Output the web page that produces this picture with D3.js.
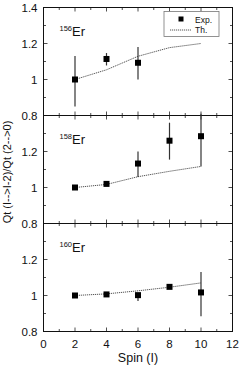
<!DOCTYPE html>
<html>
<head>
<meta charset="utf-8">
<script src="https://cdn.jsdelivr.net/npm/d3@7"></script>
<style>
  body { margin: 0; background: #fff; }
  svg { display: block; font-family: "Liberation Sans", Arial, sans-serif; }
</style>
</head>
<body>
<div class="containers"></div>
<script>
// spins for theory curves
const spins = [2, 4, 6, 8, 10]
const xTicks = [0, 2, 4, 6, 8, 10, 12]

// theory (Th.) per nucleus
const th156 = [1.0, 1.054, 1.129, 1.177, 1.2]
const th158 = [1.0, 1.017, 1.06, 1.09, 1.117]
const th160 = [1.0, 1.009, 1.026, 1.046, 1.07]

// experiment (Exp.) values with lower / upper error ends
const expSpin156 = [2, 4, 6]
const exp156 = [1.0, 1.114, 1.093]
const expLo156 = [0.85, 1.078, 1.0]
const expHi156 = [1.13, 1.147, 1.18]

const expSpin158 = [2, 4, 6, 8, 10]
const exp158 = [1.0, 1.02, 1.133, 1.26, 1.285]
const expLo158 = [0.99, 1.01, 1.058, 1.155, 1.117]
const expHi158 = [1.01, 1.03, 1.2, 1.36, 1.41]

const expSpin160 = [2, 4, 6, 8, 10]
const exp160 = [1.0, 1.006, 1.002, 1.048, 1.017]
const expLo160 = [0.99, 0.996, 0.97, 1.04, 0.885]
const expHi160 = [1.01, 1.016, 1.01, 1.056, 1.13]

const panels = [
  { mass: '156', th: th156, s: expSpin156, v: exp156, lo: expLo156, hi: expHi156, yLabels: [0.8, 1, 1.2, 1.4] },
  { mass: '158', th: th158, s: expSpin158, v: exp158, lo: expLo158, hi: expHi158, yLabels: [0.8, 1, 1.2] },
  { mass: '160', th: th160, s: expSpin160, v: exp160, lo: expLo160, hi: expHi160, yLabels: [0.8, 1, 1.2] }
]

const width = 240
const height = 367
const plotLeft = 43.5
const plotRight = 232.5
const plotTop = 7.5
const ph = 108

const svg = d3.select('.containers')
  .append('svg')
  .attr('width', width)
  .attr('height', height)

const x = d3.scaleLinear().domain([0, 12]).range([plotLeft, plotRight])
const fmt = d => String(+d.toFixed(1))

panels.forEach((p, i) => {
  const y0 = plotTop + i * ph
  const y = d3.scaleLinear().domain([0.8, 1.4]).range([y0 + ph, y0])
  const g = svg.append('g')

  // inward ticks, major and minor, on all four sides
  const yMinor = d3.range(0.8, 1.401, 0.1)
  const xMinor = d3.range(0, 12.01, 1)
  yMinor.forEach((v, k) => {
    const len = k % 2 === 0 ? 4 : 2.5
    g.append('line').attr('x1', plotLeft).attr('x2', plotLeft + len).attr('y1', y(v)).attr('y2', y(v))
    g.append('line').attr('x1', plotRight).attr('x2', plotRight - len).attr('y1', y(v)).attr('y2', y(v))
  })
  xMinor.forEach((v, k) => {
    const len = k % 2 === 0 ? 4 : 2.5
    g.append('line').attr('x1', x(v)).attr('x2', x(v)).attr('y1', y0 + ph).attr('y2', y0 + ph - len)
    g.append('line').attr('x1', x(v)).attr('x2', x(v)).attr('y1', y0).attr('y2', y0 + len)
  })
  g.selectAll('line').attr('stroke', '#222').attr('stroke-width', 0.8)

  g.append('rect')
    .attr('x', plotLeft).attr('y', y0)
    .attr('width', plotRight - plotLeft).attr('height', ph)
    .attr('fill', 'none').attr('stroke', '#111').attr('stroke-width', 1)

  // y tick labels
  g.selectAll('.ylab')
    .data(p.yLabels)
    .join('text')
    .attr('x', plotLeft - 6)
    .attr('y', d => y(d) + 4)
    .attr('text-anchor', 'end')
    .attr('font-size', 11.5)
    .attr('fill', '#111')
    .text(fmt)

  // theory line
  g.append('path')
    .datum(spins.map((s, k) => [s, p.th[k]]))
    .attr('fill', 'none')
    .attr('stroke', '#555')
    .attr('stroke-width', 1)
    .attr('stroke-dasharray', '1.2,0.8')
    .attr('d', d3.line().x(d => x(d[0])).y(d => y(d[1])))

  // error bars
  g.selectAll('.err')
    .data(p.s)
    .join('line')
    .attr('x1', d => x(d)).attr('x2', d => x(d))
    .attr('y1', (d, k) => y(p.lo[k]))
    .attr('y2', (d, k) => y(p.hi[k]))
    .attr('stroke', '#333')
    .attr('stroke-width', 1.2)

  // markers
  g.selectAll('.pt')
    .data(p.s)
    .join('rect')
    .attr('x', d => x(d) - 3)
    .attr('y', (d, k) => y(p.v[k]) - 3)
    .attr('width', 6).attr('height', 6)
    .attr('fill', '#000')

  // nucleus label
  const lab = g.append('text')
    .attr('x', 59.5)
    .attr('y', y0 + 28.5)
    .attr('fill', '#111')
  lab.append('tspan').attr('font-size', 7.5).attr('dy', -5).text(p.mass)
  lab.append('tspan').attr('font-size', 13).attr('dy', 5).text('Er')

  // legend in first panel
  if (i === 0) {
    const lg = svg.append('g')
    lg.append('rect')
      .attr('x', 164).attr('y', 11.5).attr('width', 55).attr('height', 25)
      .attr('fill', '#fff').attr('stroke', '#777').attr('stroke-width', 0.8)
    lg.append('rect').attr('x', 178.5).attr('y', 16.5).attr('width', 5).attr('height', 5).attr('fill', '#000')
    lg.append('line')
      .attr('x1', 170).attr('x2', 191).attr('y1', 30).attr('y2', 30)
      .attr('stroke', '#555').attr('stroke-width', 1).attr('stroke-dasharray', '1.2,0.8')
    lg.append('text').attr('x', 195).attr('y', 22.5).attr('font-size', 8.5).attr('fill', '#111').text('Exp.')
    lg.append('text').attr('x', 195).attr('y', 33).attr('font-size', 8.5).attr('fill', '#111').text('Th.')
  }
})

// x tick labels on the bottom panel
svg.selectAll('.xlab')
  .data(xTicks)
  .join('text')
  .attr('x', d => x(d))
  .attr('y', plotTop + 3 * ph + 16)
  .attr('text-anchor', 'middle')
  .attr('font-size', 11.5)
  .attr('fill', '#111')
  .text(d => d)

svg.append('text')
  .attr('x', 138)
  .attr('y', 362)
  .attr('text-anchor', 'middle')
  .attr('font-size', 12.5)
  .attr('fill', '#111')
  .text('Spin (I)')

svg.append('text')
  .attr('transform', 'translate(11,172) rotate(-90)')
  .attr('text-anchor', 'middle')
  .attr('font-size', 11)
  .attr('fill', '#111')
  .text('Qt (I-->I-2)/Qt (2-->0)')
</script>
</body>
</html>
